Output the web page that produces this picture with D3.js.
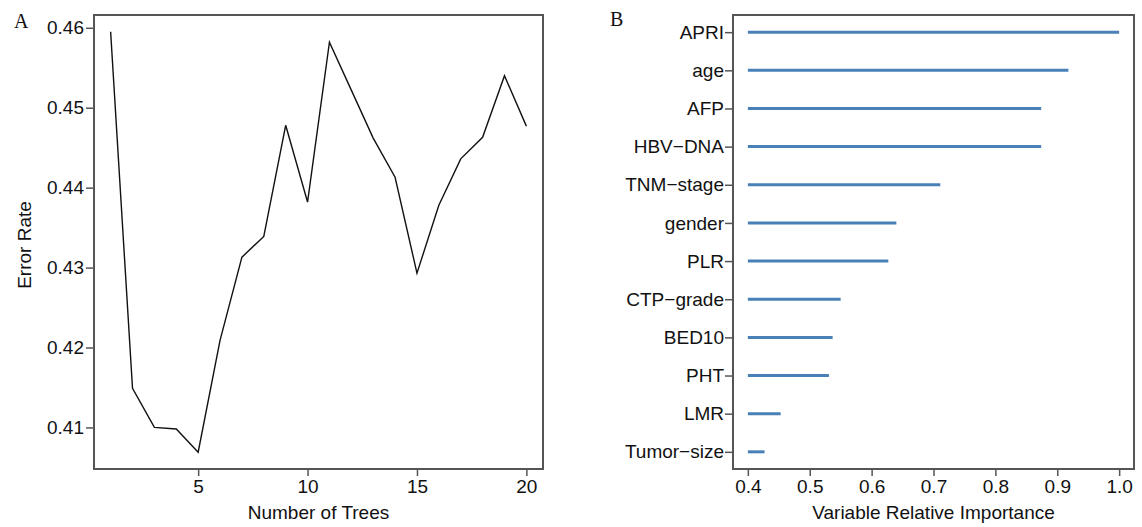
<!DOCTYPE html>
<html>
<head>
<meta charset="utf-8">
<script src="https://cdn.jsdelivr.net/npm/d3@7"></script>
<style>
  body { margin: 0; background: #fff; }
  text { font-family: "Liberation Sans", Arial, Helvetica, sans-serif; fill: #111; }
  .panel-tag { font-family: "Liberation Serif", "DejaVu Serif", serif; font-size: 20px; }
</style>
</head>
<body>
<div id="viz"></div>
<script>
// Panel A: error rate by number of trees
var trees = [1, 2, 3, 4, 5, 6, 7, 8, 9, 10, 11, 12, 13, 14, 15, 16, 17, 18, 19, 20];
var errorRate = [0.4595, 0.4149, 0.4100, 0.4098, 0.4069, 0.4209, 0.4313, 0.4339, 0.4478, 0.4382,
                 0.4582, 0.4522, 0.4462, 0.4413, 0.4293, 0.4378, 0.4436, 0.4463, 0.4540, 0.4477];
var treeTicks = [5, 10, 15, 20];
var errorTicks = [0.41, 0.42, 0.43, 0.44, 0.45, 0.46];

// Panel B: variable relative importance (top to bottom)
var variables = ["APRI", "age", "AFP", "HBV\u2212DNA", "TNM\u2212stage", "gender", "PLR",
                 "CTP\u2212grade", "BED10", "PHT", "LMR", "Tumor\u2212size"];
var importance = [1.0, 0.918, 0.874, 0.874, 0.711, 0.640, 0.627, 0.550, 0.537, 0.531, 0.453, 0.427];
var importanceTicks = [0.4, 0.5, 0.6, 0.7, 0.8, 0.9, 1.0];

var width = 1142,
    height = 527,
    fontSize = 19;

var svg = d3.select("#viz").append("svg")
    .attr("width", width)
    .attr("height", height);

// ---------- Panel A ----------
var boxA = {left: 94, top: 15, right: 543, bottom: 469};

var xA = d3.scaleLinear().domain([0.24, 20.76]).range([boxA.left, boxA.right]);
var yA = d3.scaleLinear().domain([0.4048, 0.4616]).range([boxA.bottom, boxA.top]);

var gA = svg.append("g");

gA.append("path")
    .datum(trees.map(function(t, i) { return [t, errorRate[i]]; }))
    .attr("fill", "none")
    .attr("stroke", "#111")
    .attr("stroke-width", 1.4)
    .attr("stroke-linejoin", "miter")
    .attr("d", d3.line()
        .x(function(d) { return xA(d[0]); })
        .y(function(d) { return yA(d[1]); }));

gA.append("rect")
    .attr("x", boxA.left).attr("y", boxA.top)
    .attr("width", boxA.right - boxA.left).attr("height", boxA.bottom - boxA.top)
    .attr("fill", "none").attr("stroke", "#555").attr("stroke-width", 2);

var axA_x = gA.append("g")
    .attr("transform", "translate(0," + boxA.bottom + ")")
    .call(d3.axisBottom(xA).tickValues(treeTicks).tickSize(7).tickPadding(4).tickFormat(d3.format("d")));
var axA_y = gA.append("g")
    .attr("transform", "translate(" + boxA.left + ",0)")
    .call(d3.axisLeft(yA).tickValues(errorTicks).tickSize(8).tickPadding(2).tickFormat(d3.format(".2f")));

gA.append("text")
    .attr("x", (boxA.left + boxA.right) / 2).attr("y", 519)
    .attr("text-anchor", "middle").style("font-size", fontSize + "px")
    .text("Number of Trees");
gA.append("text")
    .attr("transform", "translate(31,245) rotate(-90)")
    .attr("text-anchor", "middle").style("font-size", fontSize + "px")
    .text("Error Rate");
gA.append("text").attr("class", "panel-tag")
    .attr("x", 14).attr("y", 28).text("A");

// ---------- Panel B ----------
var boxB = {left: 733, top: 15, right: 1134, bottom: 469};

var xB = d3.scaleLinear().domain([0.376, 1.024]).range([boxB.left, boxB.right]);
var yB = d3.scalePoint().domain(variables).range([boxB.top, boxB.bottom]).padding(0.45);

var gB = svg.append("g");

gB.selectAll("line.seg")
    .data(variables)
    .enter().append("line")
    .attr("class", "seg")
    .attr("x1", xB(0.4))
    .attr("x2", function(d, i) { return xB(importance[i]); })
    .attr("y1", function(d) { return yB(d); })
    .attr("y2", function(d) { return yB(d); })
    .attr("stroke", "#4a80b8")
    .attr("stroke-width", 3);

gB.append("rect")
    .attr("x", boxB.left).attr("y", boxB.top)
    .attr("width", boxB.right - boxB.left).attr("height", boxB.bottom - boxB.top)
    .attr("fill", "none").attr("stroke", "#555").attr("stroke-width", 2);

var axB_x = gB.append("g")
    .attr("transform", "translate(0," + boxB.bottom + ")")
    .call(d3.axisBottom(xB).tickValues(importanceTicks).tickSize(7).tickPadding(4).tickFormat(d3.format(".1f")));
var axB_y = gB.append("g")
    .attr("transform", "translate(" + boxB.left + ",0)")
    .call(d3.axisLeft(yB).tickSize(8).tickPadding(1));

gB.append("text")
    .attr("x", (boxB.left + boxB.right) / 2).attr("y", 519)
    .attr("text-anchor", "middle").style("font-size", fontSize + "px")
    .text("Variable Relative Importance");
gB.append("text").attr("class", "panel-tag")
    .attr("x", 610).attr("y", 26).text("B");

// axis styling, R-like
[axA_x, axA_y, axB_x, axB_y].forEach(function(ax) {
    ax.select(".domain").remove();
    ax.selectAll(".tick line").attr("stroke", "#555").attr("stroke-width", 1.5);
    ax.selectAll(".tick text")
        .attr("fill", "#111")
        .style("font-family", "'Liberation Sans', Arial, sans-serif")
        .style("font-size", fontSize + "px");
});
</script>
</body>
</html>
